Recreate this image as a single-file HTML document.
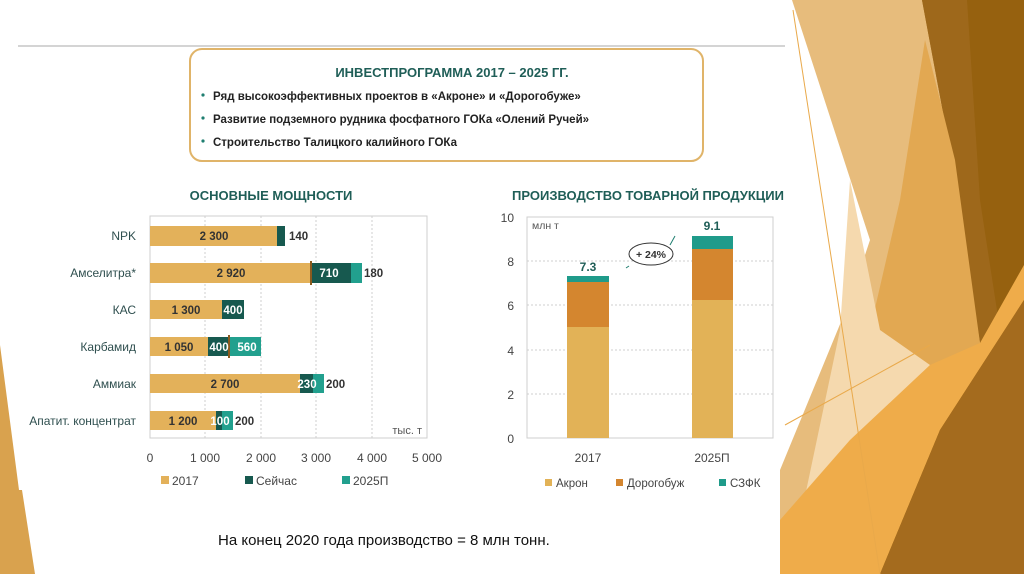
<!DOCTYPE html>
<html><head><meta charset="utf-8"><style>
html,body{margin:0;padding:0;background:#fff;}
body{width:1024px;height:574px;position:relative;overflow:hidden;font-family:"Liberation Sans","DejaVu Sans",sans-serif;}
svg{position:absolute;left:0;top:0;}
</style></head><body>
<svg width="1024" height="574" viewBox="0 0 1024 574" xmlns="http://www.w3.org/2000/svg" font-family="Liberation Sans, DejaVu Sans, sans-serif">
<!-- right decoration -->
<polygon points="792,0 1024,0 1024,574 780,574 780,470 850,300 870,240" fill="#E7BC7C"/>
<polygon points="922,0 1024,0 1024,574 870,574 935,420 980,343 950,150" fill="#96610F"/>
<polygon points="922,0 967,0 980,200 1000,330 980,343 950,150" fill="#A06A1E" opacity="0.8"/>
<polygon points="925,40 955,160 980,343 935,380 870,330 900,200" fill="#E2A852"/>
<polygon points="850,180 880,330 930,365 880,470 800,520 840,330" fill="#F5D9AE"/>
<polygon points="780,574 780,520 850,440 930,365 980,343 1024,265 1024,300 940,430 880,574" fill="#EFAC4A"/>
<polygon points="880,574 940,430 1024,300 1024,574" fill="#A46B1E"/>
<line x1="793" y1="10" x2="880" y2="574" stroke="#E9A94A" stroke-width="1"/>
<line x1="785" y1="425" x2="930" y2="345" stroke="#E9A94A" stroke-width="1"/>
<!-- left shape -->
<polygon points="0,345 19,490 22,490 35,574 0,574" fill="#D9A24E"/>
<!-- top line -->
<line x1="18" y1="46" x2="785" y2="46" stroke="#d4d4d4" stroke-width="2"/>
<!-- top box -->
<rect x="190" y="49" width="513" height="112" rx="12" fill="#fff" stroke="#E0B469" stroke-width="2"/>
<text x="452" y="77" text-anchor="middle" font-size="13" font-weight="bold" fill="#1F5E57">ИНВЕСТПРОГРАММА 2017 – 2025 ГГ.</text>
<g font-size="11.5" font-weight="bold" fill="#222">
<circle cx="203" cy="95" r="1.6" fill="#1F7E70"/><text x="213" y="100">Ряд высокоэффективных проектов в «Акроне» и «Дорогобуже»</text>
<circle cx="203" cy="118" r="1.6" fill="#1F7E70"/><text x="213" y="123">Развитие подземного рудника фосфатного ГОКа «Олений Ручей»</text>
<circle cx="203" cy="141" r="1.6" fill="#1F7E70"/><text x="213" y="146">Строительство Талицкого калийного ГОКа</text>
</g>
<!-- left chart -->
<text x="271" y="200" text-anchor="middle" font-size="13" font-weight="bold" fill="#1F5E57">ОСНОВНЫЕ МОЩНОСТИ</text>
<rect x="150" y="216" width="277" height="222" fill="none" stroke="#cfcfcf"/>
<g stroke="#cfcfcf" stroke-dasharray="2,2">
<line x1="205" y1="216" x2="205" y2="438"/><line x1="261" y1="216" x2="261" y2="438"/>
<line x1="316" y1="216" x2="316" y2="438"/><line x1="372" y1="216" x2="372" y2="438"/>
</g>
<g>
<rect x="150" y="226" width="127" height="20" fill="#E3B15A"/><rect x="277" y="226" width="8" height="20" fill="#17594F"/>
<rect x="150" y="263" width="162" height="20" fill="#E3B15A"/><rect x="312" y="263" width="39" height="20" fill="#17594F"/><rect x="351" y="263" width="11" height="20" fill="#22A08E"/><rect x="310" y="261" width="2" height="24" fill="#8B5A1E"/>
<rect x="150" y="300" width="72" height="19" fill="#E3B15A"/><rect x="222" y="300" width="22" height="19" fill="#17594F"/>
<rect x="150" y="337" width="58" height="19" fill="#E3B15A"/><rect x="208" y="337" width="22" height="19" fill="#17594F"/><rect x="230" y="337" width="31" height="19" fill="#22A08E"/><rect x="228" y="335" width="2" height="23" fill="#8B5A1E"/>
<rect x="150" y="374" width="150" height="19" fill="#E3B15A"/><rect x="300" y="374" width="13" height="19" fill="#17594F"/><rect x="313" y="374" width="11" height="19" fill="#22A08E"/>
<rect x="150" y="411" width="66" height="19" fill="#E3B15A"/><rect x="216" y="411" width="6" height="19" fill="#17594F"/><rect x="222" y="411" width="11" height="19" fill="#22A08E"/>
</g>
<g font-size="11.5" font-weight="bold" fill="#333" text-anchor="middle">
<text x="214" y="240">2 300</text><text x="231" y="277">2 920</text><text x="186" y="314">1 300</text>
<text x="179" y="351">1 050</text><text x="225" y="388">2 700</text><text x="183" y="425">1 200</text>
</g>
<g font-size="11.5" font-weight="bold" fill="#fff" text-anchor="middle">
<text x="329" y="277">710</text><text x="233" y="314">400</text><text x="219" y="351">400</text><text x="247" y="351">560</text><text x="307" y="388">230</text><text x="220" y="425">100</text>
</g>
<g font-size="11.5" font-weight="bold" fill="#333">
<text x="289" y="240">140</text><text x="364" y="277">180</text><text x="326" y="388">200</text><text x="235" y="425">200</text>
</g>
<g font-size="12" fill="#2F4F4F" text-anchor="end">
<text x="136" y="240">NPK</text><text x="136" y="277">Амселитра*</text><text x="136" y="314">КАС</text>
<text x="136" y="351">Карбамид</text><text x="136" y="388">Аммиак</text><text x="136" y="425">Апатит. концентрат</text>
</g>
<text x="422" y="434" text-anchor="end" font-size="11" fill="#555">тыс. т</text>
<g font-size="12" fill="#444" text-anchor="middle">
<text x="150" y="462">0</text><text x="205" y="462">1 000</text><text x="261" y="462">2 000</text><text x="316" y="462">3 000</text><text x="372" y="462">4 000</text><text x="427" y="462">5 000</text>
</g>
<g font-size="12" fill="#444">
<rect x="161" y="476" width="8" height="8" fill="#E3B15A"/><text x="172" y="485">2017</text>
<rect x="245" y="476" width="8" height="8" fill="#17594F"/><text x="256" y="485">Сейчас</text>
<rect x="342" y="476" width="8" height="8" fill="#22A08E"/><text x="353" y="485">2025П</text>
</g>
<!-- right chart -->
<text x="648" y="200" text-anchor="middle" font-size="13" font-weight="bold" fill="#1F5E57">ПРОИЗВОДСТВО ТОВАРНОЙ ПРОДУКЦИИ</text>
<rect x="527" y="217" width="246" height="221" fill="none" stroke="#cfcfcf"/>
<g stroke="#cfcfcf" stroke-dasharray="2,2">
<line x1="527" y1="261" x2="773" y2="261"/><line x1="527" y1="305" x2="773" y2="305"/><line x1="527" y1="350" x2="773" y2="350"/><line x1="527" y1="394" x2="773" y2="394"/>
</g>
<g font-size="12" fill="#444" text-anchor="end">
<text x="514" y="222">10</text><text x="514" y="266">8</text><text x="514" y="310">6</text><text x="514" y="355">4</text><text x="514" y="399">2</text><text x="514" y="443">0</text>
</g>
<text x="532" y="229" font-size="10.5" fill="#555">млн т</text>
<rect x="567" y="327" width="42" height="111" fill="#E2B257"/>
<rect x="567" y="282" width="42" height="45" fill="#D4862F"/>
<rect x="567" y="276" width="42" height="6" fill="#1F9B8A"/>
<rect x="692" y="300" width="41" height="138" fill="#E2B257"/>
<rect x="692" y="249" width="41" height="51" fill="#D4862F"/>
<rect x="692" y="236" width="41" height="13" fill="#1F9B8A"/>
<text x="588" y="271" text-anchor="middle" font-size="12" font-weight="bold" fill="#1F5E57">7.3</text>
<text x="712" y="230" text-anchor="middle" font-size="12" font-weight="bold" fill="#1F5E57">9.1</text>
<ellipse cx="651" cy="254" rx="22" ry="11" fill="#fff" stroke="#333" stroke-width="1"/>
<line x1="629" y1="266" x2="626" y2="268" stroke="#1F7E70"/>
<line x1="670" y1="245" x2="675" y2="236" stroke="#1F7E70"/>
<text x="651" y="258" text-anchor="middle" font-size="10.5" font-weight="bold" fill="#333">+ 24%</text>
<g font-size="12" fill="#444" text-anchor="middle">
<text x="588" y="462">2017</text><text x="712" y="462">2025П</text>
</g>
<g font-size="11.5" fill="#444">
<rect x="545" y="479" width="7" height="7" fill="#E2B257"/><text x="556" y="487">Акрон</text>
<rect x="616" y="479" width="7" height="7" fill="#D4862F"/><text x="627" y="487">Дорогобуж</text>
<rect x="719" y="479" width="7" height="7" fill="#1F9B8A"/><text x="730" y="487">СЗФК</text>
</g>
<text x="218" y="545" font-size="15" fill="#111">На конец 2020 года производство = 8 млн тонн.</text>
</svg>
</body></html>
